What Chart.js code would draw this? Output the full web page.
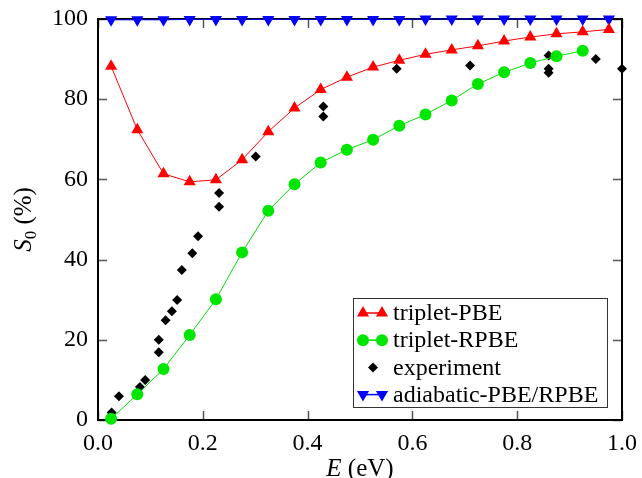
<!DOCTYPE html>
<html>
<head>
<meta charset="utf-8">
<script src="https://cdn.jsdelivr.net/npm/chart.js@4"></script>
<style>
  html, body { margin: 0; padding: 0; background: #fff; }
  #wrap { width: 642px; height: 478px; }
</style>
</head>
<body>
<div id="wrap"><canvas id="chart"></canvas></div>
<script>
// Energies of the calculated points (eV)
const calcE = [0.025, 0.075, 0.125, 0.175, 0.225, 0.275, 0.325, 0.375, 0.425, 0.475,
               0.525, 0.575, 0.625, 0.675, 0.725, 0.775, 0.825, 0.875, 0.925, 0.975];

// Sticking probability S0 (%)
const tripletPBE = [88.2, 72.4, 61.4, 59.4, 59.9, 64.9, 71.9, 77.8, 82.4, 85.5,
                    88.0, 89.7, 91.2, 92.3, 93.3, 94.5, 95.5, 96.3, 96.8, 97.4];
const tripletRPBE = [0.3, 6.4, 12.7, 21.2, 30.1, 41.8, 52.2, 58.8, 64.2, 67.4,
                     69.9, 73.4, 76.2, 79.7, 83.8, 86.7, 89.0, 90.7, 92.1];
const adiabatic = [99.8, 99.8, 99.8, 99.9, 99.9, 99.9, 99.9, 99.9, 99.9, 99.9,
                   99.9, 99.9, 100, 100, 100, 100, 100, 100, 100, 100];

// Experimental data
const expE = [0.026, 0.040, 0.080, 0.090, 0.116, 0.116, 0.129, 0.141, 0.151, 0.160,
              0.180, 0.191, 0.231, 0.231, 0.301, 0.430, 0.430, 0.570, 0.710, 0.860,
              0.860, 0.860, 0.950, 1.000];
const expS = [1.9, 5.9, 8.2, 10.0, 20.0, 16.9, 24.9, 27.1, 29.9, 37.4,
              41.6, 45.8, 56.6, 53.2, 65.7, 78.2, 75.7, 87.6, 88.4, 90.9,
              87.6, 86.6, 90.0, 87.6];

const xTicks = [0, 0.2, 0.4, 0.6, 0.8, 1.0];
const yTicks = [0, 20, 40, 60, 80, 100];

const serif = '"Liberation Serif", "Times New Roman", serif';

function toPoints(xs, ys) {
    return ys.map((y, i) => ({ x: xs[i], y: y }));
}

// Frame with inward ticks on all four sides, axis titles and the legend
const framePlugin = {
    id: 'frame',
    beforeDatasetsDraw(chart) {
        const { ctx, chartArea: a, scales } = chart;
        ctx.save();
        ctx.strokeStyle = '#555';
        ctx.lineWidth = 1.5;
        ctx.beginPath();
        xTicks.forEach(v => {
            const px = Math.round(scales.x.getPixelForValue(v)) + 0.5;
            ctx.moveTo(px, a.bottom); ctx.lineTo(px, a.bottom - 9);
            ctx.moveTo(px, a.top); ctx.lineTo(px, a.top + 9);
        });
        yTicks.forEach(v => {
            const py = Math.round(scales.y.getPixelForValue(v)) + 0.5;
            ctx.moveTo(a.left, py); ctx.lineTo(a.left + 9, py);
            ctx.moveTo(a.right, py); ctx.lineTo(a.right - 9, py);
        });
        ctx.stroke();
        ctx.strokeStyle = '#000';
        ctx.lineWidth = 2;
        ctx.strokeRect(a.left, a.top, a.right - a.left, a.bottom - a.top);
        ctx.restore();
    },
    afterDraw(chart) {
        const { ctx, chartArea: a } = chart;
        ctx.save();
        ctx.fillStyle = '#000';

        // x axis title: E (eV)
        ctx.textBaseline = 'alphabetic';
        ctx.font = 'italic 25px ' + serif;
        const wE = ctx.measureText('E').width;
        ctx.font = '25px ' + serif;
        const wRest = ctx.measureText(' (eV)').width;
        let x0 = (a.left + a.right) / 2 - (wE + wRest) / 2;
        ctx.font = 'italic 25px ' + serif;
        ctx.textAlign = 'left';
        ctx.fillText('E', x0, 476);
        ctx.font = '25px ' + serif;
        ctx.fillText(' (eV)', x0 + wE, 476);

        // y axis title: S0 (%)
        ctx.translate(31, (a.top + a.bottom) / 2);
        ctx.rotate(-Math.PI / 2);
        ctx.font = 'italic 25px ' + serif;
        const wS = ctx.measureText('S').width;
        ctx.font = '17px ' + serif;
        const w0 = ctx.measureText('0').width;
        ctx.font = '25px ' + serif;
        const wP = ctx.measureText(' (%)').width;
        x0 = -(wS + w0 + wP) / 2;
        ctx.font = 'italic 25px ' + serif;
        ctx.fillText('S', x0, 0);
        ctx.font = '17px ' + serif;
        ctx.fillText('0', x0 + wS, 5);
        ctx.font = '25px ' + serif;
        ctx.fillText(' (%)', x0 + wS + w0, 0);
        ctx.restore();

        // legend box
        ctx.save();
        const bx = 353, by = 298, bw = 254, bh = 109;
        ctx.fillStyle = '#fff';
        ctx.fillRect(bx, by, bw, bh);
        ctx.strokeStyle = '#333';
        ctx.lineWidth = 1;
        ctx.strokeRect(bx + 0.5, by + 0.5, bw, bh);
        ctx.font = '24px ' + serif;
        ctx.textBaseline = 'middle';
        ctx.textAlign = 'left';
        chart.data.datasets.forEach((ds, i) => {
            const cy = 313 + i * 27.2;
            const opts = { pointStyle: ds.pointStyle, rotation: ds.pointRotation || 0, radius: ds.pointRadius };
            ctx.strokeStyle = ds.borderColor;
            ctx.fillStyle = ds.pointBackgroundColor;
            if (ds.showLine) {
                ctx.lineWidth = 1.5;
                ctx.beginPath();
                ctx.moveTo(363, cy); ctx.lineTo(382, cy);
                ctx.stroke();
                ctx.lineWidth = 0;
                Chart.helpers.drawPoint(ctx, opts, 363, cy);
                Chart.helpers.drawPoint(ctx, opts, 382, cy);
            } else {
                ctx.lineWidth = 0;
                Chart.helpers.drawPoint(ctx, opts, 373, cy);
            }
            ctx.fillStyle = '#000';
            ctx.fillText(ds.label, 393, cy + 1);
        });
        ctx.restore();
    }
};

const ctx = document.getElementById('chart').getContext('2d');
new Chart(ctx, {
    type: 'scatter',
    data: {
        datasets: [{
            label: 'triplet-PBE',
            data: toPoints(calcE, tripletPBE),
            showLine: true,
            borderColor: '#ff0000',
            borderWidth: 1,
            pointStyle: 'triangle',
            pointRadius: 7,
            pointBackgroundColor: '#ff0000',
            pointBorderWidth: 0,
            clip: false
        }, {
            label: 'triplet-RPBE',
            data: toPoints(calcE, tripletRPBE),
            showLine: true,
            borderColor: '#00e000',
            borderWidth: 1,
            pointStyle: 'circle',
            pointRadius: 6,
            pointBackgroundColor: '#00e600',
            pointBorderWidth: 0,
            clip: false
        }, {
            label: 'experiment',
            data: toPoints(expE, expS),
            showLine: false,
            borderColor: '#000',
            pointStyle: 'rectRot',
            pointRadius: 5,
            pointBackgroundColor: '#000',
            pointBorderWidth: 0,
            clip: false
        }, {
            label: 'adiabatic-PBE/RPBE',
            data: toPoints(calcE, adiabatic),
            showLine: true,
            borderColor: '#0000ff',
            borderWidth: 1,
            pointStyle: 'triangle',
            pointRotation: 180,
            pointRadius: 7,
            pointBackgroundColor: '#0000ff',
            pointBorderWidth: 0,
            clip: false
        }]
    },
    options: {
        responsive: true,
        maintainAspectRatio: false,
        animation: false,
        layout: { padding: { left: 0, top: 19, right: 20, bottom: 0 } },
        plugins: { legend: { display: false }, tooltip: { enabled: false } },
        scales: {
            x: {
                type: 'linear',
                min: 0, max: 1,
                afterFit: s => { s.height = 58; s.paddingLeft = 0; s.paddingRight = 0; },
                afterBuildTicks: s => { s.ticks = xTicks.map(v => ({ value: v })); },
                grid: { display: false, drawTicks: false },
                border: { display: false },
                ticks: {
                    padding: 9,
                    color: '#000',
                    font: { family: serif, size: 24 },
                    callback: v => v.toFixed(1)
                }
            },
            y: {
                type: 'linear',
                min: 0, max: 100,
                afterFit: s => { s.width = 98; s.paddingTop = 0; s.paddingBottom = 0; },
                afterBuildTicks: s => { s.ticks = yTicks.map(v => ({ value: v })); },
                grid: { display: false, drawTicks: false },
                border: { display: false },
                ticks: {
                    padding: 10,
                    color: '#000',
                    font: { family: serif, size: 24 },
                    callback: v => String(v)
                }
            }
        }
    },
    plugins: [framePlugin]
});
</script>
</body>
</html>
